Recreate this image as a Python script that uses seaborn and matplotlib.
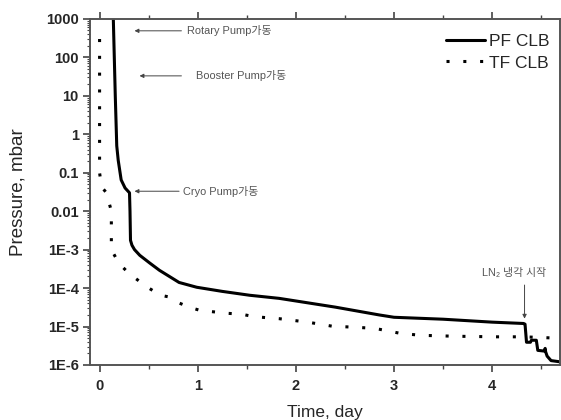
import numpy as np
import pandas as pd
import matplotlib
matplotlib.use("Agg")
import matplotlib.pyplot as plt
from matplotlib.ticker import MultipleLocator, LogLocator, NullFormatter
import seaborn as sns

# PF CLB pump-down curve (time in days, pressure in mbar)
pf_time = [0.14, 0.16, 0.175, 0.19, 0.22, 0.26, 0.295, 0.305, 0.31, 0.315, 0.33, 0.356, 0.41,
           0.51, 0.61, 0.81, 0.99, 1.25, 1.53, 1.83, 2.40, 2.85, 3.00, 3.50, 4.00, 4.32,
           4.335, 4.35, 4.39, 4.40, 4.45, 4.465, 4.53, 4.54, 4.545, 4.56, 4.60, 4.70]
pf_pres = [1000, 10, 0.5, 0.21, 0.065, 0.04, 0.032, 0.03, 0.01, 1.75e-3, 1.3e-3, 1e-3, 7.1e-4,
           4.5e-4, 2.9e-4, 1.4e-4, 1.05e-4, 8.2e-5, 6.5e-5, 5.4e-5, 3.2e-5, 2.0e-5, 1.74e-5, 1.55e-5, 1.3e-5, 1.2e-5,
           1.15e-5, 3.9e-6, 3.9e-6, 4.4e-6, 4.4e-6, 2.4e-6, 2.3e-6, 2.7e-6, 2.2e-6, 1.7e-6, 1.3e-6, 1.2e-6]

# TF CLB pump-down curve
tf_time = [0.0, 0.0, 0.02, 0.07, 0.12, 0.12, 0.197, 0.30, 0.40, 0.51, 0.62, 0.705, 0.81,
           0.91, 1.03, 1.17, 1.31, 1.44, 1.58, 1.83, 2.12, 2.39, 2.52, 2.80, 3.07, 3.28,
           3.61, 4.04, 4.32, 4.65, 4.70]
tf_pres = [300, 0.1, 0.043, 0.03, 0.01, 1e-3, 4.4e-4, 2.4e-4, 1.54e-4, 9.7e-5, 6.5e-5, 5.9e-5, 4.1e-5,
           3.2e-5, 2.6e-5, 2.4e-5, 2.2e-5, 2.1e-5, 1.8e-5, 1.6e-5, 1.3e-5, 1.0e-5, 9.8e-6, 9e-6, 6.6e-6, 5.9e-6,
           5.6e-6, 5.4e-6, 5.4e-6, 5.0e-6, 5.0e-6]

ytick_vals = [1000, 100, 10, 1, 0.1, 0.01, 1e-3, 1e-4, 1e-5, 1e-6]
ytick_labels = ["1000", "100", "10", "1", "0.1", "0.01", "1E-3", "1E-4", "1E-5", "1E-6"]

sns.set_style("ticks")
plt.rcParams['font.family'] = ['Liberation Sans', 'Noto Sans CJK KR', 'DejaVu Sans']

fig = plt.figure(figsize=(5.61, 4.2), dpi=100)
ax = fig.add_axes([0.160, 0.131, 0.838, 0.824])

pf = pd.DataFrame({'t': pf_time, 'p': pf_pres})
tf = pd.DataFrame({'t': tf_time, 'p': tf_pres})
sns.lineplot(data=pf, x='t', y='p', ax=ax, sort=False, estimator=None,
             color='black', lw=2.2, label='PF CLB')
sns.lineplot(data=tf, x='t', y='p', ax=ax, sort=False, estimator=None,
             color='black', lw=2.2, linestyle=(0, (1, 4.5)), label='TF CLB')

ax.set_yscale('log')
ax.set_xlim(-0.1, 4.69)
ax.set_ylim(1e-6, 1000)
ax.set_yticks(ytick_vals)
ax.set_yticklabels(ytick_labels, fontweight='bold', fontsize=10.5)
ax.yaxis.set_minor_locator(LogLocator(base=10, subs=np.arange(2, 10), numticks=20))
ax.yaxis.set_minor_formatter(NullFormatter())
ax.xaxis.set_major_locator(MultipleLocator(1))
ax.xaxis.set_minor_locator(MultipleLocator(0.5))
for lab in ax.get_xticklabels():
    lab.set_fontweight('bold')
    lab.set_fontsize(10.5)

ax.tick_params(axis='x', which='both', top=True, direction='out', color='#444')
ax.tick_params(axis='x', which='major', length=5, width=1.2, pad=5)
ax.tick_params(axis='x', which='minor', length=3, width=1.0)
ax.tick_params(axis='y', which='both', right=False, direction='out', color='#444')
ax.tick_params(axis='y', which='major', length=5, width=1.2, pad=3)
ax.tick_params(axis='y', which='minor', length=2.5, width=0.8)
for s in ax.spines.values():
    s.set_visible(True)
    s.set_color('#555')
    s.set_linewidth(1.4)

ax.set_xlabel('Time, day', fontsize=12.5, labelpad=9)
ax.set_ylabel('Pressure, mbar', fontsize=13.5, labelpad=14)

ax.legend(loc='upper right', bbox_to_anchor=(1.0, 0.986), frameon=False, fontsize=12.5,
          handlelength=2.3, handletextpad=0.2, borderaxespad=0.2, labelspacing=0.35)

note = dict(fontsize=7.9, color='#555', va='center', ha='left')
arrow = dict(arrowstyle='-|>', color='#444', lw=0.7, mutation_scale=6, shrinkA=0, shrinkB=0)
ax.annotate('', xy=(0.356, 490), xytext=(0.834, 490), arrowprops=arrow)
ax.text(0.895, 490, 'Rotary Pump가동', **note)
ax.annotate('', xy=(0.407, 33), xytext=(0.834, 33), arrowprops=arrow)
ax.text(0.987, 33, 'Booster Pump가동', **note)
ax.annotate('', xy=(0.356, 0.033), xytext=(0.81, 0.033), arrowprops=arrow)
ax.text(0.855, 0.033, 'Cryo Pump가동', **note)
ax.annotate('', xy=(4.33, 1.6e-5), xytext=(4.33, 1.2e-4), arrowprops=arrow)
ax.text(4.22, 2.4e-4, 'LN₂ 냉각 시작', fontsize=7.8, color='#555', ha='center', va='center')

fig.savefig('out.png', dpi=100)
